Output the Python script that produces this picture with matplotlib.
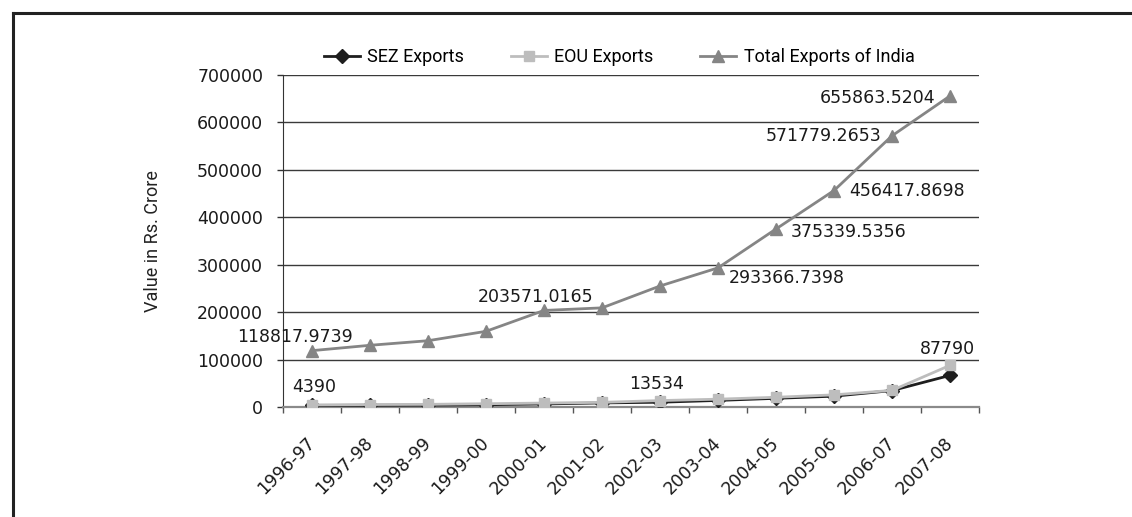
import numpy as np
import matplotlib.pyplot as plt
from matplotlib.lines import Line2D

# exports in Rs. crore
years = ['1996-97', '1997-98', '1998-99', '1999-00', '2000-01', '2001-02',
         '2002-03', '2003-04', '2004-05', '2005-06', '2006-07', '2007-08']
sez_exports = [3200, 3600, 3900, 4800, 6400, 8600, 10057, 13854, 18314, 22840, 34615, 66638]
eou_exports = [4390, 5200, 5600, 6900, 8300, 9800, 13534, 16500, 20500, 25600, 35000, 87790]
total_exports = [118817.9739, 130100.6, 139751.8, 159561.4, 203571.0165, 209018.0,
                 255137.3, 293366.7398, 375339.5356, 456417.8698, 571779.2653, 655863.5204]

# which points get a value label: index -> (dx px, dy px, ha)
total_lbl = {0: (-17, 14, 'center'), 4: (-8, 13, 'center'), 7: (11, -10, 'left'),
             8: (15, -3, 'left'), 9: (15, 0, 'left'), 10: (-11, 0, 'right'),
             11: (-15, -2, 'right')}
eou_lbl = {0: (2, 18, 'center'), 6: (-3, 17, 'center'), 11: (-3, 16, 'center')}

NUM_FONT = 'DejaVu Sans'
TXT_FONT = 'Roboto'
FS = 12.5

fig = plt.figure(figsize=(11.32, 5.17), dpi=100)
ax = fig.add_axes([283/1132, 1-407/517, (979-283)/1132, (407-75)/517])

x = np.arange(len(years))
l1, = ax.plot(x, sez_exports, color='#1e1e1e', lw=2, marker='D', ms=7, zorder=3,
              label='SEZ Exports')
l2, = ax.plot(x, eou_exports, color='#bdbdbd', lw=2, marker='s', ms=7, zorder=4,
              label='EOU Exports')
l3, = ax.plot(x, total_exports, color='#858585', lw=2, marker='^', ms=8, zorder=5,
              label='Total Exports of India')

px = 0.72  # points per pixel at 100 dpi
for i, (dx, dy, ha) in total_lbl.items():
    ax.annotate(f'{total_exports[i]:.4f}', (x[i], total_exports[i]),
                xytext=(dx*px, dy*px), textcoords='offset points',
                ha=ha, va='center', fontsize=FS, family=NUM_FONT, color='#1a1a1a')
for i, (dx, dy, ha) in eou_lbl.items():
    ax.annotate(f'{eou_exports[i]:d}', (x[i], eou_exports[i]),
                xytext=(dx*px, dy*px), textcoords='offset points',
                ha=ha, va='center', fontsize=FS, family=NUM_FONT, color='#1a1a1a')

ax.set_xlim(-0.5, len(years)-0.5)
ax.set_ylim(0, 700000)
ax.set_yticks(np.arange(0, 700001, 100000))
ax.set_yticklabels([f'{v:d}' for v in range(0, 700001, 100000)],
                   fontsize=FS, family=NUM_FONT, color='#1a1a1a')
ax.tick_params(axis='y', length=4.3, width=1, color='#333333', pad=10)

ax.set_xticks(x)
ax.set_xticklabels(years, rotation=45, ha='right', va='center', rotation_mode='anchor',
                   fontsize=FS, family=NUM_FONT, color='#1a1a1a')
ax.tick_params(axis='x', which='major', length=0, pad=24)
ax.set_xticks(np.arange(-0.5, len(years), 1), minor=True)
ax.tick_params(axis='x', which='minor', length=4.3, width=1, color='#555555')

ax.grid(axis='y', color='#3a3a3a', lw=1)
ax.set_axisbelow(True)
for s in ['top', 'right']:
    ax.spines[s].set_visible(False)
ax.spines['left'].set_color('#333333')
ax.spines['bottom'].set_color('#8a8a8a')
ax.spines['bottom'].set_linewidth(1.6)

ax.set_ylabel('Value in Rs. Crore', fontsize=13, family=TXT_FONT, color='#222222')
ax.yaxis.set_label_coords(-0.174, 0.5)

ax.legend(handles=[l1, l2, l3], loc='center', bbox_to_anchor=(619/1132, 1-57/517),
          bbox_transform=fig.transFigure, ncol=3, frameon=False, numpoints=1,
          handlelength=2, handletextpad=0.4, columnspacing=2.6,
          prop={'family': TXT_FONT, 'size': 13})

# page frame: top and left rules
fx, fy = 13/1132, 1-13/517
fig.add_artist(Line2D([fx, 1], [fy, fy], transform=fig.transFigure, color='#222222', lw=2.2))
fig.add_artist(Line2D([fx, fx], [0, fy], transform=fig.transFigure, color='#222222', lw=2.2))

fig.savefig('out.png', dpi=100)
